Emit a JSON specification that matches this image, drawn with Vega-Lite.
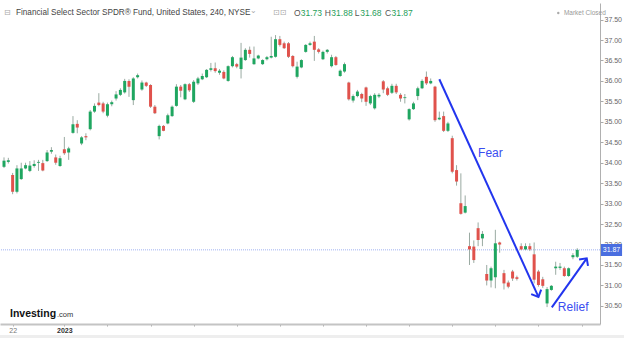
{
 "$schema": "https://vega.github.io/schema/vega-lite/v6.json",
 "width": 600, "height": 321,
 "autosize": {"type": "none"},
 "padding": {"left": 0, "top": 3, "right": 24, "bottom": 14},
 "background": "#ffffff",
 "config": {"view": {"stroke": null}, "font": "Liberation Sans", "axis": {"labelOverlap": false, "zindex": 1}},
 "datasets": {
  "candles": [
   {"i":0,"o":33.90,"h":34.13,"l":33.87,"c":34.05},
   {"i":1,"o":34.02,"h":34.12,"l":33.98,"c":34.06},
   {"i":2,"o":33.70,"h":33.75,"l":33.23,"c":33.29},
   {"i":3,"o":33.29,"h":33.94,"l":33.25,"c":33.86},
   {"i":4,"o":33.60,"h":34.00,"l":33.58,"c":33.86},
   {"i":5,"o":33.86,"h":34.00,"l":33.84,"c":33.94},
   {"i":6,"o":33.80,"h":34.04,"l":33.77,"c":33.93},
   {"i":7,"o":33.92,"h":34.06,"l":33.88,"c":33.97},
   {"i":8,"o":34.00,"h":34.07,"l":33.80,"c":34.02},
   {"i":9,"o":33.99,"h":34.07,"l":33.79,"c":33.81},
   {"i":10,"o":34.04,"h":34.31,"l":34.02,"c":34.25},
   {"i":11,"o":34.27,"h":34.38,"l":34.22,"c":34.31},
   {"i":12,"o":34.13,"h":34.20,"l":33.95,"c":34.00},
   {"i":13,"o":33.92,"h":34.17,"l":33.90,"c":34.11},
   {"i":14,"o":34.33,"h":34.63,"l":34.19,"c":34.23},
   {"i":15,"o":34.25,"h":34.39,"l":34.07,"c":34.35},
   {"i":16,"o":34.73,"h":35.14,"l":34.71,"c":34.94},
   {"i":17,"o":34.95,"h":35.04,"l":34.72,"c":34.86},
   {"i":18,"o":34.47,"h":34.65,"l":34.43,"c":34.62},
   {"i":19,"o":34.65,"h":34.72,"l":34.55,"c":34.62},
   {"i":20,"o":34.82,"h":35.29,"l":34.79,"c":35.25},
   {"i":21,"o":35.25,"h":35.45,"l":35.22,"c":35.39},
   {"i":22,"o":35.47,"h":35.70,"l":35.38,"c":35.41},
   {"i":23,"o":35.45,"h":35.49,"l":35.21,"c":35.25},
   {"i":24,"o":35.15,"h":35.47,"l":35.11,"c":35.43},
   {"i":25,"o":35.43,"h":35.52,"l":35.38,"c":35.48},
   {"i":26,"o":35.57,"h":35.75,"l":35.52,"c":35.67},
   {"i":27,"o":35.66,"h":35.82,"l":35.63,"c":35.78},
   {"i":28,"o":35.72,"h":36.05,"l":35.69,"c":36.00},
   {"i":29,"o":36.00,"h":36.04,"l":35.61,"c":35.86},
   {"i":30,"o":35.53,"h":36.09,"l":35.41,"c":36.06},
   {"i":31,"o":36.09,"h":36.18,"l":36.06,"c":36.14},
   {"i":32,"o":35.79,"h":36.01,"l":35.76,"c":35.96},
   {"i":33,"o":35.96,"h":35.98,"l":35.85,"c":35.88},
   {"i":34,"o":35.90,"h":35.92,"l":35.34,"c":35.37},
   {"i":35,"o":35.37,"h":35.41,"l":35.19,"c":35.21},
   {"i":36,"o":34.65,"h":34.93,"l":34.57,"c":34.90},
   {"i":37,"o":34.90,"h":34.92,"l":34.77,"c":34.78},
   {"i":38,"o":34.96,"h":35.20,"l":34.94,"c":35.16},
   {"i":39,"o":35.14,"h":35.40,"l":35.12,"c":35.37},
   {"i":40,"o":35.39,"h":35.92,"l":35.37,"c":35.86},
   {"i":41,"o":35.86,"h":35.90,"l":35.60,"c":35.76},
   {"i":42,"o":35.55,"h":35.94,"l":35.53,"c":35.92},
   {"i":43,"o":35.92,"h":35.95,"l":35.73,"c":35.77},
   {"i":44,"o":35.49,"h":36.02,"l":35.46,"c":35.98},
   {"i":45,"o":35.94,"h":36.10,"l":35.90,"c":36.06},
   {"i":46,"o":36.04,"h":36.18,"l":36.02,"c":36.12},
   {"i":47,"o":36.09,"h":36.29,"l":36.07,"c":36.27},
   {"i":48,"o":36.27,"h":36.44,"l":36.23,"c":36.31},
   {"i":49,"o":36.31,"h":36.45,"l":36.20,"c":36.24},
   {"i":50,"o":36.20,"h":36.29,"l":36.15,"c":36.25},
   {"i":51,"o":36.22,"h":36.26,"l":36.04,"c":36.06},
   {"i":52,"o":36.00,"h":36.38,"l":35.98,"c":36.36},
   {"i":53,"o":36.36,"h":36.61,"l":36.33,"c":36.58},
   {"i":54,"o":36.41,"h":36.44,"l":36.31,"c":36.35},
   {"i":55,"o":36.29,"h":36.93,"l":36.06,"c":36.57},
   {"i":56,"o":36.51,"h":36.80,"l":36.49,"c":36.76},
   {"i":57,"o":36.76,"h":36.84,"l":36.57,"c":36.66},
   {"i":58,"o":36.41,"h":36.84,"l":36.39,"c":36.55},
   {"i":59,"o":36.55,"h":36.64,"l":36.53,"c":36.62},
   {"i":60,"o":36.41,"h":36.53,"l":36.39,"c":36.51},
   {"i":61,"o":36.53,"h":36.61,"l":36.50,"c":36.58},
   {"i":62,"o":36.57,"h":37.08,"l":36.55,"c":36.61},
   {"i":63,"o":36.59,"h":37.12,"l":36.57,"c":37.02},
   {"i":64,"o":37.02,"h":37.10,"l":36.84,"c":36.88},
   {"i":65,"o":36.92,"h":36.96,"l":36.78,"c":36.80},
   {"i":66,"o":36.92,"h":36.95,"l":36.56,"c":36.59},
   {"i":67,"o":36.61,"h":36.63,"l":36.33,"c":36.36},
   {"i":68,"o":36.10,"h":36.47,"l":36.06,"c":36.35},
   {"i":69,"o":36.33,"h":36.53,"l":36.31,"c":36.51},
   {"i":70,"o":36.71,"h":36.90,"l":36.69,"c":36.88},
   {"i":71,"o":36.88,"h":36.96,"l":36.86,"c":36.92},
   {"i":72,"o":36.96,"h":37.10,"l":36.49,"c":36.76},
   {"i":73,"o":36.77,"h":36.80,"l":36.67,"c":36.71},
   {"i":74,"o":36.53,"h":36.74,"l":36.51,"c":36.71},
   {"i":75,"o":36.71,"h":36.78,"l":36.67,"c":36.76},
   {"i":76,"o":36.36,"h":36.64,"l":36.33,"c":36.58},
   {"i":77,"o":36.58,"h":36.61,"l":36.37,"c":36.39},
   {"i":78,"o":36.12,"h":36.28,"l":36.10,"c":36.25},
   {"i":79,"o":36.23,"h":36.45,"l":36.20,"c":36.41},
   {"i":80,"o":35.96,"h":35.98,"l":35.52,"c":35.55},
   {"i":81,"o":35.52,"h":35.67,"l":35.47,"c":35.63},
   {"i":82,"o":35.63,"h":35.78,"l":35.60,"c":35.74},
   {"i":83,"o":35.68,"h":35.71,"l":35.48,"c":35.57},
   {"i":84,"o":35.84,"h":35.86,"l":35.39,"c":35.49},
   {"i":85,"o":35.45,"h":35.66,"l":35.41,"c":35.63},
   {"i":86,"o":35.33,"h":35.70,"l":35.30,"c":35.66},
   {"i":87,"o":35.62,"h":35.70,"l":35.58,"c":35.66},
   {"i":88,"o":35.99,"h":36.02,"l":35.70,"c":35.79},
   {"i":89,"o":35.82,"h":35.86,"l":35.63,"c":35.66},
   {"i":90,"o":35.71,"h":35.93,"l":35.68,"c":35.88},
   {"i":91,"o":35.88,"h":35.93,"l":35.68,"c":35.72},
   {"i":92,"o":35.66,"h":35.70,"l":35.49,"c":35.57},
   {"i":93,"o":35.58,"h":35.68,"l":35.45,"c":35.60},
   {"i":94,"o":35.06,"h":35.33,"l":35.03,"c":35.31},
   {"i":95,"o":35.31,"h":35.49,"l":35.29,"c":35.45},
   {"i":96,"o":35.63,"h":35.86,"l":35.53,"c":35.82},
   {"i":97,"o":35.82,"h":36.04,"l":35.80,"c":36.00},
   {"i":98,"o":36.10,"h":36.23,"l":35.90,"c":35.94},
   {"i":99,"o":35.94,"h":36.06,"l":35.92,"c":36.00},
   {"i":100,"o":35.86,"h":35.88,"l":35.00,"c":35.04},
   {"i":101,"o":35.06,"h":35.25,"l":35.04,"c":35.10},
   {"i":102,"o":35.14,"h":35.25,"l":34.75,"c":34.78},
   {"i":103,"o":34.78,"h":35.00,"l":34.75,"c":34.96},
   {"i":104,"o":34.60,"h":34.66,"l":33.74,"c":33.78},
   {"i":105,"o":33.82,"h":33.94,"l":33.44,"c":33.54},
   {"i":106,"o":33.01,"h":33.74,"l":32.73,"c":32.75},
   {"i":107,"o":32.78,"h":33.20,"l":32.76,"c":32.94},
   {"i":108,"o":31.96,"h":32.29,"l":31.50,"c":31.88},
   {"i":109,"o":31.95,"h":32.10,"l":31.55,"c":31.62},
   {"i":110,"o":32.40,"h":32.54,"l":31.96,"c":32.11},
   {"i":111,"o":32.15,"h":32.33,"l":31.96,"c":32.26},
   {"i":112,"o":31.28,"h":31.50,"l":31.00,"c":31.12},
   {"i":113,"o":31.12,"h":31.46,"l":30.95,"c":31.42},
   {"i":114,"o":31.20,"h":32.36,"l":30.93,"c":32.03},
   {"i":115,"o":32.05,"h":32.07,"l":31.80,"c":32.00},
   {"i":116,"o":31.30,"h":31.38,"l":30.90,"c":31.05},
   {"i":117,"o":31.07,"h":31.12,"l":30.93,"c":30.97},
   {"i":118,"o":31.34,"h":31.38,"l":31.11,"c":31.17},
   {"i":119,"o":31.20,"h":31.24,"l":31.12,"c":31.16},
   {"i":120,"o":31.96,"h":32.03,"l":31.86,"c":31.88},
   {"i":121,"o":31.88,"h":32.03,"l":31.86,"c":31.96},
   {"i":122,"o":31.96,"h":32.03,"l":31.84,"c":31.88},
   {"i":123,"o":31.76,"h":32.05,"l":31.05,"c":31.14},
   {"i":124,"o":31.34,"h":31.38,"l":30.97,"c":31.01},
   {"i":125,"o":31.15,"h":31.21,"l":30.94,"c":30.99},
   {"i":126,"o":30.56,"h":30.96,"l":30.47,"c":30.91},
   {"i":127,"o":30.89,"h":31.01,"l":30.87,"c":30.99},
   {"i":128,"o":31.42,"h":31.58,"l":31.26,"c":31.46},
   {"i":129,"o":31.43,"h":31.55,"l":31.38,"c":31.46},
   {"i":130,"o":31.42,"h":31.46,"l":31.21,"c":31.23},
   {"i":131,"o":31.23,"h":31.44,"l":31.21,"c":31.42},
   {"i":132,"o":31.69,"h":31.79,"l":31.64,"c":31.74},
   {"i":133,"o":31.70,"h":31.91,"l":31.67,"c":31.87}
  ],
  "arrows": [
   {"name":"Fear","x1":101.0,"y1":36.04,"x2":124.0,"y2":30.72},
   {"name":"Relief","x1":127.1,"y1":30.465,"x2":135.2,"y2":31.663}
  ],
  "labels": [
   {"t":"Fear","x":110.0,"y":34.24},
   {"t":"Relief","x":128.5,"y":30.47}
  ],
  "header": [
   {"t":"Financial Select Sector SPDR® Fund, United States, 240, NYSE","x":2.78,"y":37.66}
  ],
  "icons": [
   {"t":"⊟","x":0.0,"y":37.66},
   {"t":"⌄","x":57.1,"y":37.70},
   {"t":"⊡⊡","x":62.4,"y":37.66}
  ],
  "ohlcKeys": [
   {"t":"O","x":67.3,"y":37.66},
   {"t":"H","x":74.4,"y":37.66},
   {"t":"L","x":81.4,"y":37.66},
   {"t":"C","x":88.4,"y":37.66}
  ],
  "ohlcVals": [
   {"t":"31.73","x":68.85,"y":37.66},
   {"t":"31.88","x":75.95,"y":37.66},
   {"t":"31.68","x":82.65,"y":37.66},
   {"t":"31.87","x":89.9,"y":37.66}
  ],
  "status": [
   {"t":"Market Closed","x":129.9,"y":37.66}
  ],
  "statusDot": [
   {"x":128.6,"y":37.66}
  ],
  "last": [
   {"p":31.87}
  ],
  "tag": [
   {"x1":138.5,"x2":143.4,"y1":32.013,"y2":31.719,"p":31.87,"xm":140.95,"t":"31.87"}
  ],
  "strip": [
   {"x1":-0.93,"x2":143.9,"y1":29.79,"y2":29.70}
  ],
  "brand": [
   {"t":"Investing","x":1.39,"y":30.228}
  ],
  "brand2": [
   {"t":".com","x":12.3,"y":30.228}
  ]
 },
 "layer": [
  {
   "data": {"name": "strip"},
   "mark": {"type": "rect", "color": "#eeeeee"},
   "encoding": {
    "x": {"field": "x1", "type": "quantitative", "title": null},
    "x2": {"field": "x2"},
    "y": {"field": "y1", "type": "quantitative", "title": null},
    "y2": {"field": "y2"}
   }
  },
  {
   "data": {"name": "last"},
   "mark": {"type": "rule", "color": "#9fb2f2", "strokeDash": [1, 1], "strokeWidth": 1},
   "encoding": {"y": {"field": "p", "type": "quantitative", "title": null}}
  },
  {
   "data": {"name": "candles"},
   "mark": {"type": "rule", "color": "#9aaaa2", "strokeWidth": 1},
   "encoding": {
    "x": {"field": "i", "type": "quantitative", "title": null,
      "scale": {"domain": [-0.93, 138.28], "nice": false, "zero": false, "padding": 0},
      "axis": {"orient": "bottom", "values": [2,14,24,34,44,54,64,74,84,94,104,114,124,134],
        "labelExpr": "datum.value == 2 ? '22' : datum.value == 14 ? '2023' : ''",
        "labelFontSize": 7, "labelColor": {"condition": {"test": "datum.value == 14", "value": "#333"}, "value": "#777"},
        "labelFontWeight": {"condition": {"test": "datum.value == 14", "value": "bold"}, "value": "normal"},
        "labelOverlap": false, "labelFlush": false, "domainColor": "#c4c4c4", "domainWidth": 2,
        "tickSize": 2, "tickColor": "#aaa", "labelPadding": 0, "grid": false, "title": null}},
    "y": {"field": "l", "type": "quantitative", "title": null,
      "scale": {"domain": [30.057, 37.905], "nice": false, "zero": false, "padding": 0},
      "axis": {"orient": "right", "tickCount": 16,
        "labelExpr": "format(datum.value, '.2f')", "labelFontSize": 7, "labelColor": "#666", "tickSize": 3, "tickColor": "#aaa",
        "labelOverlap": false, "labelFlush": false, "labelBound": false,
        "domainColor": "#b0b0b0", "labelPadding": 1, "grid": false, "title": null}},
    "y2": {"field": "h"}
   }
  },
  {
   "data": {"name": "candles"},
   "mark": {"type": "bar", "width": 3},
   "encoding": {
    "x": {"field": "i", "type": "quantitative", "title": null},
    "y": {"field": "o", "type": "quantitative", "title": null},
    "y2": {"field": "c"},
    "color": {"condition": {"test": "datum.c >= datum.o", "value": "#1fa660"}, "value": "#e0524c"}
   }
  },
  {
   "data": {"name": "arrows"},
   "mark": {"type": "rule", "color": "#2235ee", "strokeWidth": 2},
   "encoding": {
    "x": {"field": "x1", "type": "quantitative", "title": null},
    "y": {"field": "y1", "type": "quantitative", "title": null},
    "x2": {"field": "x2"},
    "y2": {"field": "y2"}
   }
  },
  {
   "data": {"name": "arrows"},
   "transform": [{"filter": "datum.name == 'Fear'"}],
   "mark": {"type": "point", "shape": "M-1,1L0,0L1,1", "filled": false, "color": "#2235ee", "strokeWidth": 2, "size": 120, "angle": 155.5, "opacity": 1},
   "encoding": {
    "x": {"field": "x2", "type": "quantitative", "title": null},
    "y": {"field": "y2", "type": "quantitative", "title": null}
   }
  },
  {
   "data": {"name": "arrows"},
   "transform": [{"filter": "datum.name == 'Relief'"}],
   "mark": {"type": "point", "shape": "M-1,1L0,0L1,1", "filled": false, "color": "#2235ee", "strokeWidth": 2, "size": 120, "angle": 35.5, "opacity": 1},
   "encoding": {
    "x": {"field": "x2", "type": "quantitative", "title": null},
    "y": {"field": "y2", "type": "quantitative", "title": null}
   }
  },
  {
   "data": {"name": "labels"},
   "mark": {"type": "text", "align": "left", "baseline": "middle", "fontSize": 12, "color": "#3a4df0"},
   "encoding": {
    "x": {"field": "x", "type": "quantitative", "title": null},
    "y": {"field": "y", "type": "quantitative", "title": null},
    "text": {"field": "t"}
   }
  },
  {
   "data": {"name": "header"},
   "mark": {"type": "text", "align": "left", "baseline": "middle", "fontSize": 8.2, "color": "#444"},
   "encoding": {
    "x": {"field": "x", "type": "quantitative", "title": null},
    "y": {"field": "y", "type": "quantitative", "title": null},
    "text": {"field": "t"}
   }
  },
  {
   "data": {"name": "icons"},
   "mark": {"type": "text", "align": "left", "baseline": "middle", "fontSize": 8, "color": "#aaa", "font": "DejaVu Sans"},
   "encoding": {
    "x": {"field": "x", "type": "quantitative", "title": null},
    "y": {"field": "y", "type": "quantitative", "title": null},
    "text": {"field": "t"}
   }
  },
  {
   "data": {"name": "ohlcKeys"},
   "mark": {"type": "text", "align": "left", "baseline": "middle", "fontSize": 8.5, "color": "#555"},
   "encoding": {
    "x": {"field": "x", "type": "quantitative", "title": null},
    "y": {"field": "y", "type": "quantitative", "title": null},
    "text": {"field": "t"}
   }
  },
  {
   "data": {"name": "ohlcVals"},
   "mark": {"type": "text", "align": "left", "baseline": "middle", "fontSize": 8.5, "color": "#1f9e5a"},
   "encoding": {
    "x": {"field": "x", "type": "quantitative", "title": null},
    "y": {"field": "y", "type": "quantitative", "title": null},
    "text": {"field": "t"}
   }
  },
  {
   "data": {"name": "statusDot"},
   "mark": {"type": "point", "shape": "circle", "filled": true, "color": "#aaa", "size": 6, "opacity": 1},
   "encoding": {
    "x": {"field": "x", "type": "quantitative", "title": null},
    "y": {"field": "y", "type": "quantitative", "title": null}
   }
  },
  {
   "data": {"name": "status"},
   "mark": {"type": "text", "align": "left", "baseline": "middle", "fontSize": 6.5, "color": "#999"},
   "encoding": {
    "x": {"field": "x", "type": "quantitative", "title": null},
    "y": {"field": "y", "type": "quantitative", "title": null},
    "text": {"field": "t"}
   }
  },
  {
   "data": {"name": "tag"},
   "mark": {"type": "rect", "color": "#4a6ee0"},
   "encoding": {
    "x": {"field": "x1", "type": "quantitative", "title": null},
    "x2": {"field": "x2"},
    "y": {"field": "y1", "type": "quantitative", "title": null},
    "y2": {"field": "y2"}
   }
  },
  {
   "data": {"name": "tag"},
   "mark": {"type": "text", "align": "center", "baseline": "middle", "fontSize": 7, "color": "#ffffff"},
   "encoding": {
    "x": {"field": "xm", "type": "quantitative", "title": null},
    "y": {"field": "p", "type": "quantitative", "title": null},
    "text": {"field": "t"}
   }
  },
  {
   "data": {"name": "brand"},
   "mark": {"type": "text", "align": "left", "baseline": "alphabetic", "fontSize": 10.5, "fontWeight": "bold", "color": "#111"},
   "encoding": {
    "x": {"field": "x", "type": "quantitative", "title": null},
    "y": {"field": "y", "type": "quantitative", "title": null},
    "text": {"field": "t"}
   }
  },
  {
   "data": {"name": "brand2"},
   "mark": {"type": "text", "align": "left", "baseline": "alphabetic", "fontSize": 7.5, "color": "#333"},
   "encoding": {
    "x": {"field": "x", "type": "quantitative", "title": null},
    "y": {"field": "y", "type": "quantitative", "title": null},
    "text": {"field": "t"}
   }
  }
 ]
}
